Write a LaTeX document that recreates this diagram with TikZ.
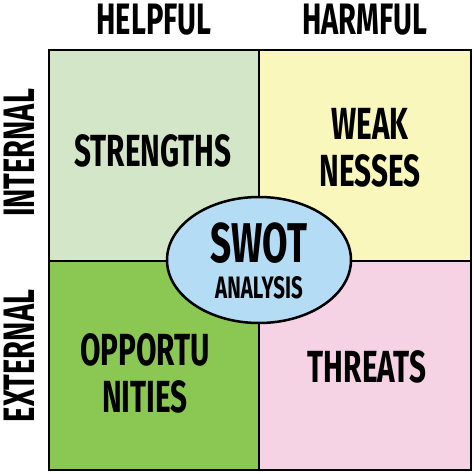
\documentclass[tikz,border=0pt]{standalone}
\usepackage{fontspec}
\usetikzlibrary{shapes.geometric}
\setmainfont{Fira Sans}[FakeStretch=0.66]
\definecolor{cstr}{HTML}{D3E6C8}
\definecolor{cweak}{HTML}{FAF7BD}
\definecolor{copp}{HTML}{8BC753}
\definecolor{cthr}{HTML}{F5D3E4}
\definecolor{cswot}{HTML}{B5DCF5}
\tikzset{
  cell/.style={draw=black, line width=2.2pt},
  lbl/.style={font=\fontsize{45}{47}\bfseries, text=black, inner sep=0pt, align=center},
  axis/.style={font=\fontsize{44}{42}\bfseries, text=black, inner sep=0pt},
}
\begin{document}
\begin{tikzpicture}[x=1pt,y=-1pt]
\useasboundingbox (0,0) rectangle (474,474);
\fill[white] (0,0) rectangle (474,474);
% cells
\filldraw[cell, fill=cstr] (49,50) rectangle (259,261);
\filldraw[cell, fill=cweak] (259,50) rectangle (471,261);
\filldraw[cell, fill=copp] (49,261) rectangle (259,470);
\filldraw[cell, fill=cthr] (259,261) rectangle (471,470);
% center ellipse
\node[draw=black, line width=2.5pt, fill=cswot, ellipse, minimum width=184pt, minimum height=126pt, inner sep=0pt] (swot) at (259,260) {};
\node[font=\fontsize{56}{58}\bfseries, inner sep=0pt, text height=39pt, text depth=0pt] (swott) at (259,243) {SWOT};
\node[font=\fontsize{31}{33}\bfseries, inner sep=0pt, text height=21pt, text depth=0pt] (ana) at (259,288) {ANALYSIS};
% axis labels
\node[axis] (helpful) at (154,20) {HELPFUL};
\node[axis] (harmful) at (365,20) {HARMFUL};
\node[axis, rotate=90] (internal) at (19,153) {INTERNAL};
\node[axis, rotate=90] (external) at (19,356) {EXTERNAL};
% quadrant labels
\node[lbl] (str) at (153,151) {STRENGTHS};
\node[lbl] (weak) at (370,148) {WEAK\\NESSES};
\node[lbl] (opp) at (145,373) {OPPORTU\\NITIES};
\node[lbl] (thr) at (367,367) {THREATS};
\end{tikzpicture}
\end{document}
